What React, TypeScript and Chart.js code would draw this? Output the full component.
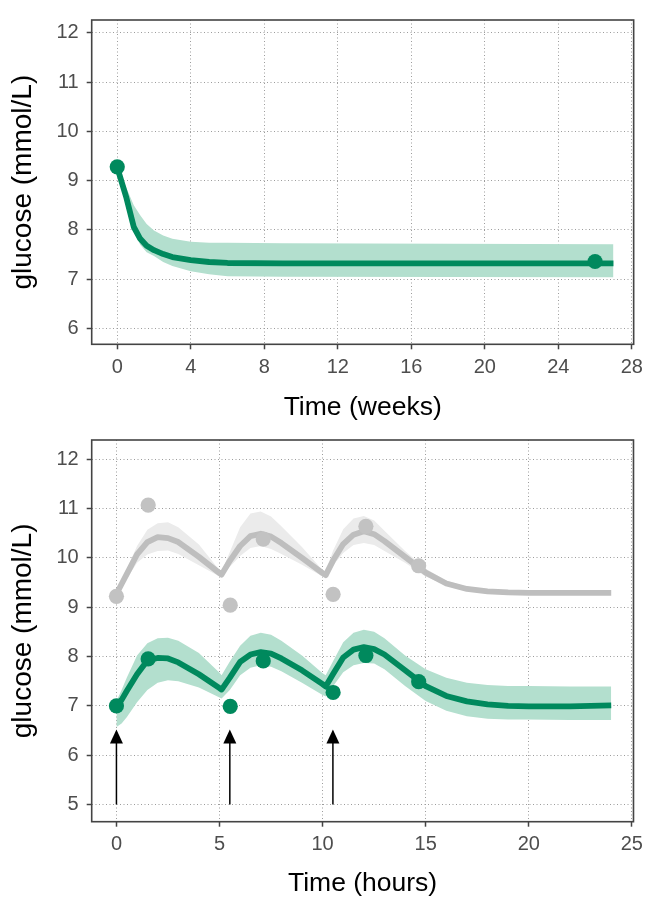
import React, { useEffect, useRef } from 'react';
import { Chart, registerables } from 'chart.js';

Chart.register(...registerables);

// ---------- Top panel data (weeks) ----------
const weekTicks = [0, 4, 8, 12, 16, 20, 24, 28];
const weekGlucoseTicks = [6, 7, 8, 9, 10, 11, 12];
const weeksModel = [0, 0.5, 0.9, 1.25, 1.6, 2, 2.5, 3, 4, 5, 6, 9, 27];
const weeksLine = [9.27, 8.65, 8.06, 7.82, 7.68, 7.59, 7.51, 7.45, 7.39, 7.35, 7.33, 7.32, 7.32];
const weeksUpper = [9.27, 8.85, 8.5, 8.3, 8.12, 7.99, 7.89, 7.82, 7.76, 7.74, 7.74, 7.73, 7.71];
const weeksLower = [9.27, 8.55, 7.98, 7.7, 7.55, 7.47, 7.35, 7.27, 7.16, 7.1, 7.06, 7.05, 7.04];
const weeksObs = [0, 26];
const weeksObsGlucose = [9.28, 7.36];

// ---------- Bottom panel data (hours) ----------
const hourTicks = [0, 5, 10, 15, 20, 25];
const hourGlucoseTicks = [5, 6, 7, 8, 9, 10, 11, 12];
const hoursModel = [0, 0.25, 0.5, 1, 1.5, 2, 2.5, 3, 4, 5, 5.1, 5.5, 6, 6.5, 7, 7.5, 8, 9, 10, 10.15, 10.5, 11, 11.5, 12, 12.5, 13, 14, 15, 16, 17, 18, 19, 20, 22, 24];
const greenLine = [6.99, 7.12, 7.3, 7.64, 7.92, 7.97, 7.96, 7.88, 7.64, 7.36, 7.33, 7.57, 7.89, 8.04, 8.09, 8.06, 7.96, 7.72, 7.44, 7.39, 7.64, 7.98, 8.14, 8.19, 8.15, 8.04, 7.72, 7.4, 7.2, 7.09, 7.03, 7.0, 6.99, 6.99, 7.01];
const greenUpper = [7.1, 7.32, 7.57, 8.02, 8.27, 8.37, 8.38, 8.32, 8.07, 7.67, 7.62, 7.9, 8.22, 8.42, 8.48, 8.44, 8.32, 8.02, 7.66, 7.62, 7.9, 8.29, 8.48, 8.54, 8.5, 8.37, 8.02, 7.74, 7.57, 7.47, 7.42, 7.4, 7.4, 7.39, 7.39];
const greenLower = [6.57, 6.64, 6.77, 7.07, 7.32, 7.47, 7.52, 7.5, 7.37, 7.17, 7.15, 7.32, 7.62, 7.77, 7.82, 7.79, 7.7, 7.47, 7.22, 7.19, 7.39, 7.68, 7.82, 7.87, 7.86, 7.74, 7.4, 7.1, 6.9, 6.79, 6.74, 6.72, 6.72, 6.71, 6.71];
const grayLine = [9.27, 9.47, 9.67, 10.07, 10.32, 10.42, 10.4, 10.32, 10.02, 9.69, 9.66, 9.94, 10.24, 10.44, 10.49, 10.43, 10.3, 10.0, 9.69, 9.65, 9.94, 10.28, 10.47, 10.54, 10.48, 10.34, 10.02, 9.7, 9.48, 9.37, 9.32, 9.3, 9.29, 9.29, 9.29];
const grayUpper = [9.3, 9.52, 9.77, 10.24, 10.57, 10.7, 10.72, 10.62, 10.27, 9.75, 9.72, 10.12, 10.62, 10.9, 10.94, 10.84, 10.64, 10.22, 9.75, 9.72, 10.14, 10.58, 10.8, 10.85, 10.76, 10.55, 10.14, 9.78, 9.54, 9.41, 9.35, 9.33, 9.32, 9.32, 9.32];
const grayLower = [9.24, 9.42, 9.57, 9.9, 10.07, 10.14, 10.15, 10.08, 9.85, 9.62, 9.61, 9.82, 10.04, 10.2, 10.24, 10.18, 10.08, 9.86, 9.62, 9.6, 9.84, 10.1, 10.26, 10.3, 10.26, 10.14, 9.9, 9.62, 9.44, 9.34, 9.29, 9.27, 9.27, 9.27, 9.27];
const hoursObs = [0, 1.54, 5.52, 7.12, 10.51, 12.1, 14.66];
const greenObs = [7.0, 7.95, 6.99, 7.91, 7.27, 8.02, 7.49];
const grayObs = [9.22, 11.07, 9.04, 10.38, 9.26, 10.64, 9.84];
const doseTimes = [0, 5.5, 10.5];
const arrowFrom = 5;
const arrowTo = 6.52;

// ---------- styling ----------
const FONT = '"Liberation Sans", Arial, Helvetica, sans-serif';
const GREEN = '#00895D';
const GREEN_BAND = '#B3DFCE';
const GRAY = '#BEBEBE';
const GRAY_BAND = '#EBEBEB';
const GRAY_PT = '#C2C2C2';
const GRID = '#9C9C9C';

const pts = (xs: number[], ys: number[]) => xs.map((x, i) => ({ x, y: ys[i] }));

const framePlugin = {
  id: 'frame',
  afterDatasetsDraw(chart: any) {
    const { ctx, chartArea: a } = chart;
    ctx.save();
    ctx.strokeStyle = '#444444';
    ctx.lineWidth = 1.6;
    ctx.strokeRect(a.left, a.top, a.right - a.left, a.bottom - a.top);
    ctx.restore();
  },
};

const arrowPlugin = {
  id: 'doseArrows',
  afterDatasetsDraw(chart: any) {
    const { ctx } = chart;
    const xs = chart.scales.x;
    const ys = chart.scales.y;
    ctx.save();
    ctx.strokeStyle = '#000';
    ctx.fillStyle = '#000';
    ctx.lineWidth = 1.5;
    doseTimes.forEach((t) => {
      const px = xs.getPixelForValue(t);
      const y0 = ys.getPixelForValue(arrowFrom);
      const y1 = ys.getPixelForValue(arrowTo);
      const head = 14;
      ctx.beginPath();
      ctx.moveTo(px, y0);
      ctx.lineTo(px, y1 + head - 1);
      ctx.stroke();
      ctx.beginPath();
      ctx.moveTo(px, y1);
      ctx.lineTo(px - 6.5, y1 + head);
      ctx.lineTo(px + 6.5, y1 + head);
      ctx.closePath();
      ctx.fill();
    });
    ctx.restore();
  },
};

function band(xs: number[], up: number[], lo: number[], color: string) {
  return [
    {
      data: pts(xs, up), showLine: true, borderWidth: 0, pointRadius: 0,
      backgroundColor: color, fill: '+1', order: 10, tension: 0,
    },
    {
      data: pts(xs, lo), showLine: true, borderWidth: 0, pointRadius: 0,
      backgroundColor: color, fill: false, order: 10, tension: 0,
    },
  ];
}

function line(xs: number[], ys: number[], color: string) {
  return {
    data: pts(xs, ys), showLine: true, borderColor: color, borderWidth: 5.8,
    borderJoinStyle: 'round', pointRadius: 0, fill: false, order: 5, tension: 0,
  };
}

function dots(xs: number[], ys: number[], color: string) {
  return {
    data: pts(xs, ys), showLine: false, pointRadius: 7.6, pointBorderWidth: 0,
    pointBackgroundColor: color, backgroundColor: color, borderColor: color, order: 1,
  };
}

function makeOptions(p: {
  xMin: number; xMax: number; yMin: number; yMax: number;
  xTicks: number[]; yTicks: number[]; xTitle: string; topPad: number;
  axisH: number; titlePad: number;
}) {
  return {
    animation: false,
    responsive: false,
    devicePixelRatio: 1,
    events: [],
    layout: { padding: { top: p.topPad, right: 13, left: 0, bottom: 0 } },
    plugins: { legend: { display: false }, tooltip: { enabled: false } },
    scales: {
      x: {
        type: 'linear',
        min: p.xMin,
        max: p.xMax,
        afterBuildTicks: (s: any) => { s.ticks = p.xTicks.map((v) => ({ value: v })); },
        afterFit: (s: any) => { s.height = p.axisH; },
        grid: { color: GRID, lineWidth: 1, drawTicks: true, tickLength: 5, tickColor: '#444444', tickWidth: 1.5, tickBorderDash: [] },
        border: { display: false, dash: [1, 2.5] },
        ticks: { color: '#4D4D4D', font: { family: FONT, size: 20 }, padding: 6, maxRotation: 0, autoSkip: false, callback: (v: any) => String(v) },
        title: { display: true, text: p.xTitle, color: '#000', font: { family: FONT, size: 26.5, lineHeight: 1 }, padding: { top: 0, bottom: p.titlePad } },
      },
      y: {
        type: 'linear',
        min: p.yMin,
        max: p.yMax,
        afterBuildTicks: (s: any) => { s.ticks = p.yTicks.map((v) => ({ value: v })); },
        afterFit: (s: any) => { s.width = 91.7; },
        grid: { color: GRID, lineWidth: 1, drawTicks: true, tickLength: 5, tickColor: '#444444', tickWidth: 1.5, tickBorderDash: [] },
        border: { display: false, dash: [1, 2.5] },
        ticks: { color: '#4D4D4D', font: { family: FONT, size: 20 }, padding: 8, autoSkip: false, callback: (v: any) => String(v) },
        title: { display: true, text: 'glucose (mmol/L)', color: '#000', font: { family: FONT, size: 28, lineHeight: 1 }, padding: { top: 9, bottom: 0 } },
      },
    },
  };
}

export default function App() {
  const topRef = useRef<HTMLCanvasElement>(null);
  const botRef = useRef<HTMLCanvasElement>(null);

  useEffect(() => {
    const top = new Chart(topRef.current as HTMLCanvasElement, {
      type: 'scatter',
      data: {
        datasets: [
          ...band(weeksModel, weeksUpper, weeksLower, GREEN_BAND),
          line(weeksModel, weeksLine, GREEN),
          dots(weeksObs, weeksObsGlucose, GREEN),
        ] as any,
      },
      options: makeOptions({
        xMin: -1.39, xMax: 28.1, yMin: 5.68, yMax: 12.26,
        xTicks: weekTicks, yTicks: weekGlucoseTicks, xTitle: 'Time (weeks)',
        topPad: 12.7, axisH: 420 - 344.3, titlePad: -0.75,
      }) as any,
      plugins: [framePlugin],
    });

    const bottom = new Chart(botRef.current as HTMLCanvasElement, {
      type: 'scatter',
      data: {
        datasets: [
          ...band(hoursModel, grayUpper, grayLower, GRAY_BAND),
          ...band(hoursModel, greenUpper, greenLower, GREEN_BAND),
          line(hoursModel, grayLine, GRAY),
          line(hoursModel, greenLine, GREEN),
          dots(hoursObs, grayObs, GRAY_PT),
          dots(hoursObs, greenObs, GREEN),
        ] as any,
      },
      options: makeOptions({
        xMin: -1.2, xMax: 25.08, yMin: 4.65, yMax: 12.39,
        xTicks: hourTicks, yTicks: hourGlucoseTicks, xTitle: 'Time (hours)',
        topPad: 15, axisH: 480 - (821.7 - 420), titlePad: 3.25,
      }) as any,
      plugins: [arrowPlugin, framePlugin],
    });

    return () => {
      top.destroy();
      bottom.destroy();
    };
  }, []);

  return (
    <div style={{ position: 'absolute', left: 0, top: 0, width: 649, height: 900, background: '#fff' }}>
      <canvas ref={topRef} width={649} height={420} style={{ display: 'block', width: 649, height: 420 }} />
      <canvas ref={botRef} width={649} height={480} style={{ display: 'block', width: 649, height: 480 }} />
    </div>
  );
}
